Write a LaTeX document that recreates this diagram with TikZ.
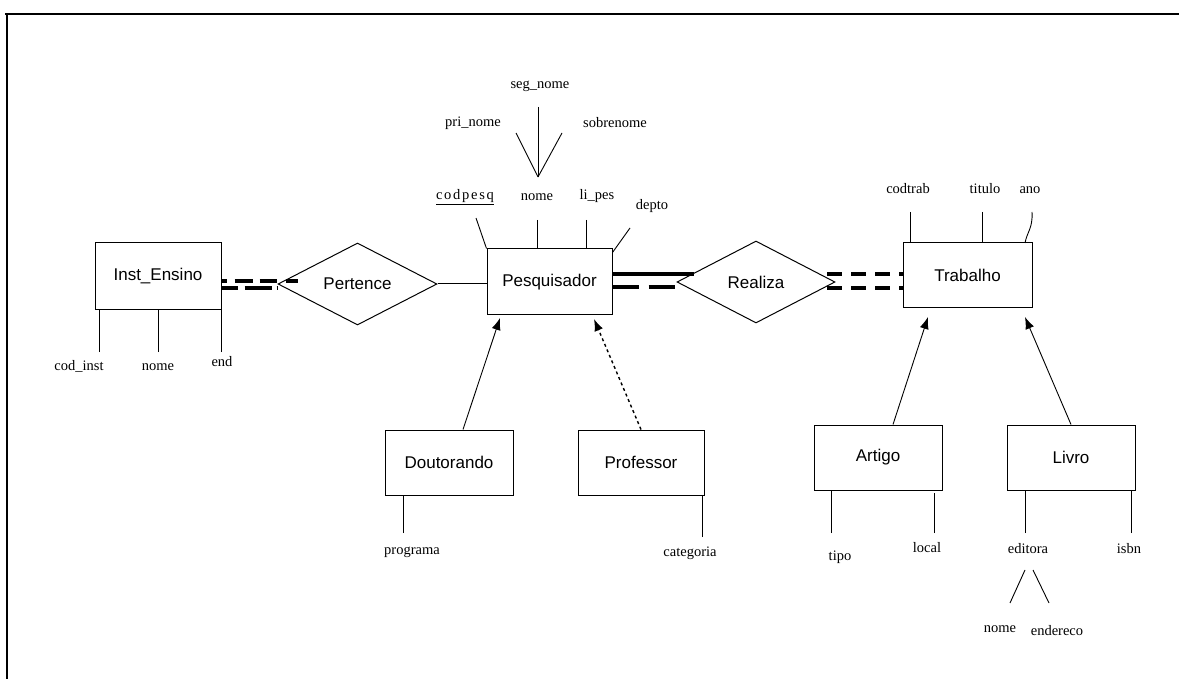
\documentclass[tikz,border=0pt]{standalone}
\usepackage{fontspec}
\setmainfont{Liberation Serif}
\setsansfont{Liberation Sans}
\usetikzlibrary{shapes.geometric,arrows.meta,calc}
\begin{document}
\begin{tikzpicture}[x=1pt,y=-1pt,
  ent/.style={draw,line width=1pt,rectangle,inner sep=0pt,font=\sffamily\fontsize{17}{19}\selectfont},
  rel/.style={draw,line width=1pt,diamond,inner sep=0pt,font=\sffamily\fontsize{17}{19}\selectfont},
  attr/.style={inner sep=0pt,font=\fontsize{14.5}{16}\selectfont},
  aline/.style={line width=0.9pt},
  isa/.style={line width=0.9pt,-{Latex[length=12pt,width=9pt]}},
  thk/.style={line width=3.5pt},
]
\useasboundingbox (0,0) rectangle (1179,679);
% frame
\draw[line width=1.5pt] (5,14) -- (1179,14);
\draw[line width=1.5pt] (7,14) -- (7,679);

% entities and relationships
\node[ent,minimum width=126pt,minimum height=67pt] (inst) at (158,276.5) {Inst\_Ensino};
\node[rel,minimum width=159pt,minimum height=82pt] (pert) at (357.5,284) {Pertence};
\node[ent,minimum width=125pt,minimum height=66pt] (pesq) at (549.5,282) {Pesquisador};
\node[rel,minimum width=158pt,minimum height=82pt] (real) at (756,282) {Realiza};
\node[ent,minimum width=129pt,minimum height=65pt] (trab) at (967.5,275.5) {Trabalho};
\node[ent,minimum width=128pt,minimum height=65pt] (dout) at (449,462.5) {Doutorando};
\node[ent,minimum width=126pt,minimum height=65pt] (prof) at (641,462.5) {Professor};
\node[ent,minimum width=128pt,minimum height=65pt] (art) at (878,457.5) {Artigo};
\node[ent,minimum width=128pt,minimum height=65pt] (liv) at (1071,457.5) {Livro};

% attribute labels
\node[attr] (segnome) at (540,86) {seg\_nome};
\node[attr] (prinome) at (473,123) {pri\_nome};
\node[attr] (sobrenome) at (615,123) {sobrenome};
\node[attr] (codpesq) at (465,197) {\addfontfeature{LetterSpace=12}\underline{codpesq}};
\node[attr] (pnome) at (537,197) {nome};
\node[attr] (lipes) at (597,196) {li\_pes};
\node[attr] (depto) at (652,206) {depto};
\node[attr] (codinst) at (79,366) {cod\_inst};
\node[attr] (inome) at (158,367) {nome};
\node[attr] (end) at (222,362) {end};
\node[attr] (codtrab) at (908,189) {codtrab};
\node[attr] (titulo) at (985,189) {titulo};
\node[attr] (ano) at (1030,190) {ano};
\node[attr] (programa) at (412,552) {programa};
\node[attr] (categoria) at (690,553) {categoria};
\node[attr] (tipo) at (840,557) {tipo};
\node[attr] (local) at (927,548) {local};
\node[attr] (editora) at (1028,549) {editora};
\node[attr] (isbn) at (1129,549) {isbn};
\node[attr] (enome) at (1000,629) {nome};
\node[attr] (endereco) at (1057,631) {endereco};

% Inst_Ensino attributes
\coordinate (i1) at (99,352);
\coordinate (i2) at (158,352);
\coordinate (i3) at (221,352);
\draw[aline] (i1) -- (i1 |- inst.south);
\draw[aline] (i2) -- (i2 |- inst.south);
\draw[aline] (i3) -- (i3 |- inst.south);

% Pesquisador attributes
\coordinate (cp) at (476,218);
\draw[aline] (cp) -- (pesq.north west);
\coordinate (pn) at (537,220);
\draw[aline] (pn) -- (pn |- pesq.north);
\coordinate (lp) at (586,220);
\draw[aline] (lp) -- (lp |- pesq.north);
\coordinate (dp) at (630,228);
\draw[aline] (dp) .. controls (622,240) .. ($(pesq.north east)+(0,4)$);

% composite nome
\coordinate (nj) at (538,177);
\draw[aline] (538,107) -- (nj);
\draw[aline] (516,133) -- (nj);
\draw[aline] (562,133) -- (nj);

% Trabalho attributes
\coordinate (ct) at (910,212);
\draw[aline] (ct) -- (ct |- trab.north);
\coordinate (tt) at (982,212);
\draw[aline] (tt) -- (tt |- trab.north);
\coordinate (an) at (1032,212);
\draw[aline] (an) .. controls (1033,228) and (1027,232) .. (1025,243);

% subclass attributes
\coordinate (dpg) at (403,533);
\draw[aline] (dpg) -- (dpg |- dout.south);
\coordinate (pcat) at (702,537);
\draw[aline] (pcat) -- (pcat |- prof.south);
\coordinate (at1) at (831,533);
\draw[aline] (at1) -- (at1 |- art.south);
\coordinate (at2) at (934,533);
\draw[aline] (at2) -- (934,493);
\coordinate (lv1) at (1025,533);
\draw[aline] (lv1) -- (lv1 |- liv.south);
\coordinate (lv2) at (1131,533);
\draw[aline] (lv2) -- (lv2 |- liv.south);

% editora composite
\draw[aline] (1025,570) -- (1010,603);
\draw[aline] (1033,570) -- (1049,603);

% relationship connectors
\draw[thk,dash pattern=on 5pt off 8pt on 18pt off 7pt on 17pt off 9pt on 14pt off 20pt] (inst.east |- 0,281) -- (298,281);
\draw[thk,dash pattern=on 16pt off 7pt on 27pt off 5pt on 12pt off 20pt] (inst.east |- 0,288) -- (pert.west |- 0,288);
\draw[line width=1pt] (pert.east) -- (pesq.west |- pert.east);
\draw[thk] (pesq.east |- 0,274) -- (694,274);
\draw[thk,dash pattern=on 26pt off 10pt] (pesq.east |- 0,287) -- (679,287);
\draw[thk,dash pattern=on 15pt off 9pt] (827,274) -- (trab.west |- 0,274);
\draw[thk,dash pattern=on 15pt off 9pt] (827,288) -- (trab.west |- 0,288);

% ISA arrows
\coordinate (dtip) at (500,318);
\draw[isa] ($(dout.north)+(14,0)$) -- (dtip);
\coordinate (ptip) at (594,319);
\draw[isa,line width=1.4pt,dash pattern=on 3pt off 3pt] (prof.north) -- (ptip);
\coordinate (atip) at (928,317);
\draw[isa] ($(art.north)+(15,0)$) -- (atip);
\coordinate (ltip) at (1025,317);
\draw[isa] (liv.north) -- (ltip);
\end{tikzpicture}
\end{document}
